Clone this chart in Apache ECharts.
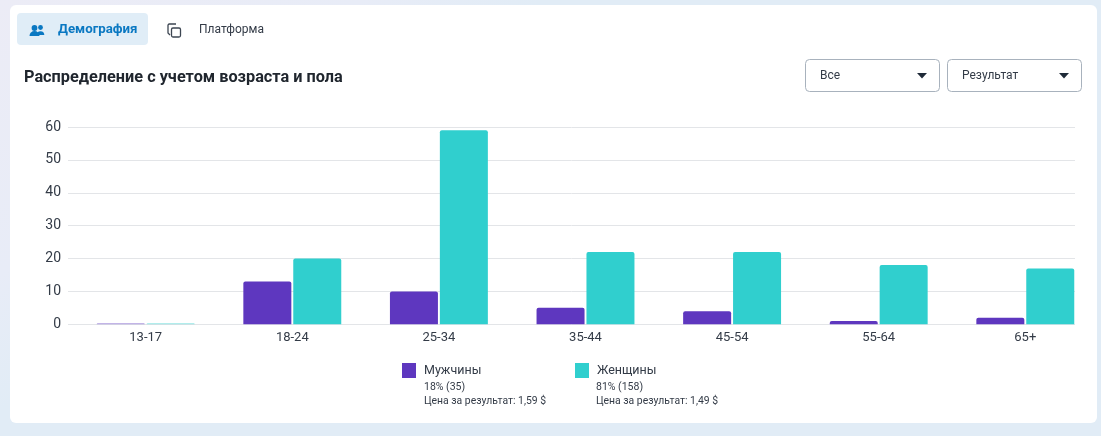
<!DOCTYPE html>
<html>
<head>
<meta charset="utf-8">
<title>Демография</title>
<script src="https://cdn.jsdelivr.net/npm/echarts@6/dist/echarts.min.js"></script>
<style>
  html, body { margin: 0; padding: 0; background: #e6edf6; }
  #chart { width: 1101px; height: 436px; }
</style>
</head>
<body>
<div id="chart"></div>
<script>
const ageGroups = ['13-17', '18-24', '25-34', '35-44', '45-54', '55-64', '65+'];
const menValues = [0, 13, 10, 5, 4, 1, 2];
const womenValues = [0, 20, 59, 22, 22, 18, 17];
const yTicks = { min: 0, max: 60, interval: 10 };

const seriesNames = ['Мужчины', 'Женщины'];
const shareLabels = ['18% (35)', '81% (158)'];
const costLabels = ['Цена за результат: 1,59 $', 'Цена за результат: 1,49 $'];

const titleText = 'Распределение с учетом возраста и пола';
const tabLabels = ['Демография', 'Платформа'];
const dropdownLabels = ['Все', 'Результат'];

const PURPLE = '#5e37bf';
const TEAL = '#30cfce';
const INK = '#333b47';
const FONT = 'Roboto, "Noto Sans", sans-serif';

// Zero-value bars keep a thin, paler stub on the baseline.
const barData = (values, color) => values.map(v => (
  v === 0 ? { value: v, itemStyle: { color, opacity: 0.5 } } : v
));

const text = (x, y, str, size, fill, weight) => ({
  type: 'text', x, y, z: 5,
  style: { text: str, fontSize: size, fill, fontWeight: weight || 400, fontFamily: FONT, verticalAlign: 'middle' }
});

const dropdown = (x, label) => ([
  { type: 'rect', z: 4, shape: { x: x + 0.5, y: 59.5, width: 134, height: 32, r: 4 },
    style: { fill: '#fff', stroke: '#a8b2bd', lineWidth: 1 } },
  text(x + 15, 76, label, 12, INK),
  { type: 'polygon', z: 5, shape: { points: [[x + 112, 73], [x + 122, 73], [x + 117, 78.5]] },
    style: { fill: '#1f2a38' } }
]);

const halfDisc = (cx, cy, r) => ({
  type: 'sector', z: 5, shape: { cx, cy, r, r0: 0, startAngle: Math.PI, endAngle: 2 * Math.PI },
  style: { fill: '#0a78c2' }
});

const graphics = [
  // Card and active tab
  { type: 'rect', z: -1, shape: { x: 10, y: 5, width: 1087, height: 418, r: 6 }, style: { fill: '#fff' } },
  { type: 'rect', z: 1, shape: { x: 17, y: 13, width: 131, height: 32, r: 4 }, style: { fill: '#e0edf7' } },

  // People icon
  { type: 'circle', z: 5, shape: { cx: 34.5, cy: 28, r: 2.9 }, style: { fill: '#0a78c2' } },
  { type: 'circle', z: 5, shape: { cx: 40.5, cy: 27.5, r: 2.4 }, style: { fill: '#0a78c2' } },
  halfDisc(34.5, 36, 5),
  halfDisc(40.5, 35, 3.8),

  // Copy icon
  { type: 'polyline', z: 5, shape: { points: [[176, 24], [169, 24], [168, 25], [168, 33], [170, 35]] },
    style: { fill: 'none', stroke: '#3d4652', lineWidth: 1.3 } },
  { type: 'rect', z: 5, shape: { x: 171.5, y: 28, width: 9, height: 9, r: 1.5 },
    style: { fill: 'none', stroke: '#3d4652', lineWidth: 1.3 } },

  text(58, 29.5, tabLabels[0], 13.3, '#0a78c2', 700),
  text(199, 30, tabLabels[1], 12, INK),
  text(24, 77.5, titleText, 16.3, '#20262e', 700),

  ...dropdown(805, dropdownLabels[0]),
  ...dropdown(947, dropdownLabels[1]),

  // Legend detail lines
  text(424, 387.5, shareLabels[0], 10.5, INK),
  text(424, 401.5, costLabels[0], 10.4, INK),
  text(596, 387.5, shareLabels[1], 10.5, INK),
  text(596, 401.5, costLabels[1], 10.4, INK)
];

const legendFor = (index, left) => ({
  left, top: 363, orient: 'vertical', padding: 0,
  data: [seriesNames[index]], selectedMode: false,
  icon: 'rect', itemWidth: 14, itemHeight: 15, itemGap: 0,
  textStyle: { color: INK, fontSize: 12.5, fontFamily: FONT, padding: [4, 0, 0, 3] }
});

const chart = echarts.init(document.getElementById('chart'), null, { renderer: 'canvas' });
chart.setOption({
  animation: false,
  backgroundColor: new echarts.graphic.LinearGradient(0, 0, 0.3, 1, [
    { offset: 0, color: '#ececf6' },
    { offset: 0.4, color: '#e8ecf7' },
    { offset: 0.6, color: '#e1ecf6' },
    { offset: 1, color: '#e1ecf6' }
  ]),
  textStyle: { fontFamily: FONT },
  graphic: graphics,
  legend: [legendFor(0, 402), legendFor(1, 575)],
  grid: [
    // Bars sit on a wider band scale than the ruled area.
    { left: 72.4, width: 1026.2, top: 127, height: 197.3 },
    { left: 68, width: 1007, top: 127, height: 197.3 }
  ],
  xAxis: [
    {
      type: 'category', gridIndex: 0, data: ageGroups,
      axisLine: { show: false }, axisTick: { show: false },
      axisLabel: { color: INK, fontSize: 13, margin: 7, fontFamily: FONT }
    },
    { type: 'category', gridIndex: 1, data: ageGroups, show: false }
  ],
  yAxis: [
    { type: 'value', gridIndex: 0, show: false, min: yTicks.min, max: yTicks.max, interval: yTicks.interval, splitLine: { show: false } },
    {
      type: 'value', gridIndex: 1, min: yTicks.min, max: yTicks.max, interval: yTicks.interval,
      axisLine: { show: false }, axisTick: { show: false },
      axisLabel: { color: INK, fontSize: 14, margin: 7, fontFamily: FONT, padding: [4, 0, 0, 0] },
      splitLine: { lineStyle: { color: '#e3e5e8', width: 1 } }
    }
  ],
  series: [
    {
      name: seriesNames[0], type: 'bar', xAxisIndex: 0, yAxisIndex: 0, z: 3,
      data: barData(menValues, PURPLE), barWidth: 48, barGap: '4%', barMinHeight: 1,
      itemStyle: { color: PURPLE, borderRadius: [2, 2, 0, 0] }
    },
    {
      name: seriesNames[1], type: 'bar', xAxisIndex: 0, yAxisIndex: 0, z: 3,
      data: barData(womenValues, TEAL), barWidth: 48, barGap: '4%', barMinHeight: 1,
      itemStyle: { color: TEAL, borderRadius: [2, 2, 0, 0] }
    }
  ]
});
</script>
</body>
</html>
